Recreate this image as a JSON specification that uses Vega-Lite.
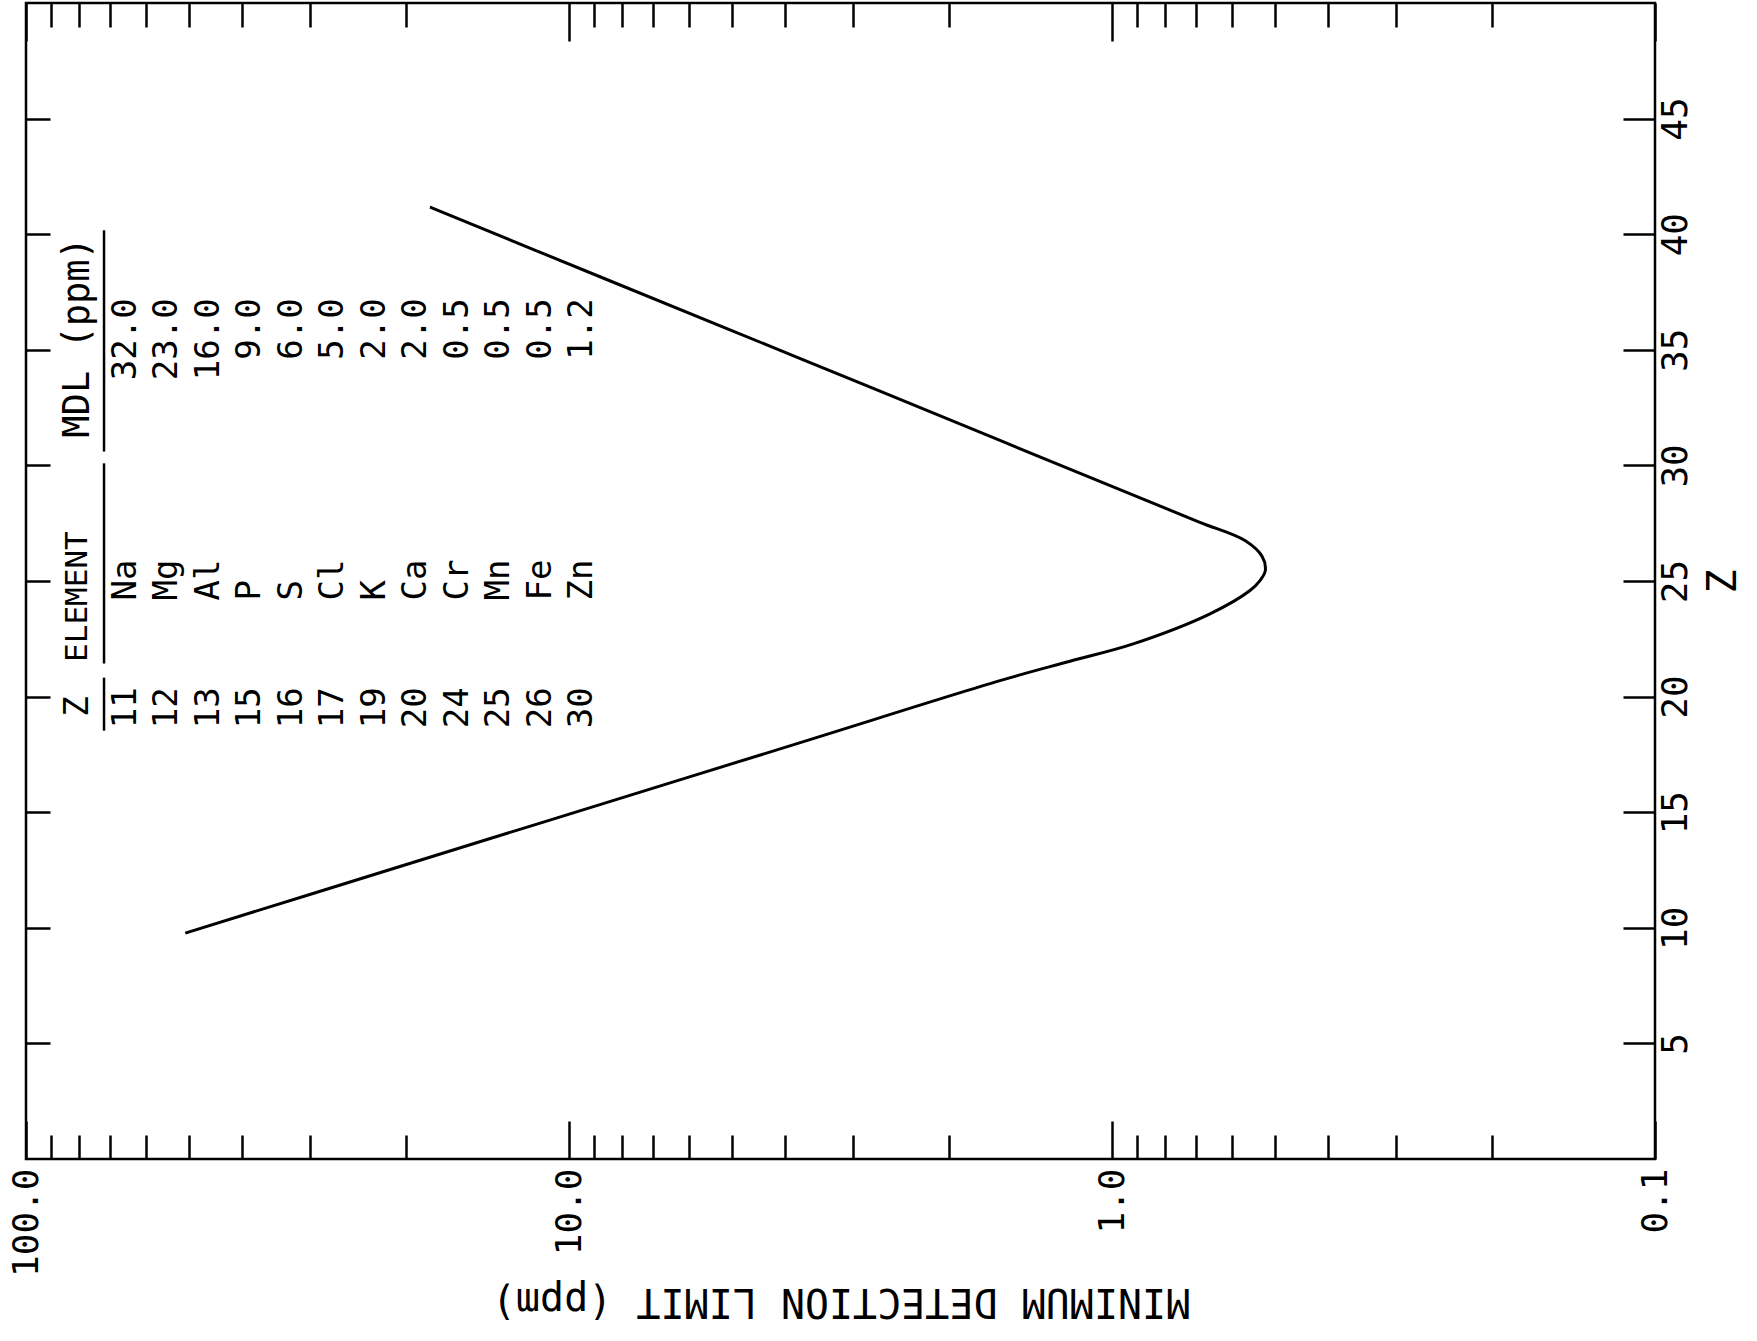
{
  "$schema": "https://vega.github.io/schema/vega-lite/v6.json",
  "width": 1629,
  "height": 1156,
  "autosize": {"type": "none"},
  "padding": {"left": 26, "top": 3, "right": 102, "bottom": 182},
  "background": "white",
  "config": {
    "view": {"stroke": "black", "strokeWidth": 2.5},
    "font": "DejaVu Sans Mono",
    "axis": {
      "grid": false,
      "domain": false,
      "tickColor": "black",
      "tickWidth": 2.5,
      "labelColor": "black",
      "titleColor": "black",
      "labelFont": "DejaVu Sans Mono",
      "titleFont": "DejaVu Sans Mono",
      "titleFontWeight": "normal",
      "labelOverlap": false,
      "labelBound": false,
      "labelFlush": false
    }
  },
  "resolve": {"scale": {"x": "independent"}, "axis": {"x": "independent", "y": "independent"}},
  "layer": [
    {
      "data": {"name": "curve", "values": [
        {"MDL": 50.9, "Z": 9.77},
        {"MDL": 20.48, "Z": 12.65},
        {"MDL": 8.77, "Z": 15.33},
        {"MDL": 3.75, "Z": 18.01},
        {"MDL": 1.608, "Z": 20.69},
        {"MDL": 1.195, "Z": 21.53},
        {"MDL": 0.914, "Z": 22.28},
        {"MDL": 0.660, "Z": 23.58},
        {"MDL": 0.557, "Z": 24.59},
        {"MDL": 0.534, "Z": 25.02},
        {"MDL": 0.522, "Z": 25.45},
        {"MDL": 0.529, "Z": 26.06},
        {"MDL": 0.569, "Z": 26.75},
        {"MDL": 0.689, "Z": 27.54},
        {"MDL": 0.967, "Z": 28.95},
        {"MDL": 1.608, "Z": 31.08},
        {"MDL": 3.75, "Z": 34.62},
        {"MDL": 8.77, "Z": 38.16},
        {"MDL": 18.03, "Z": 41.17}
      ]},
      "mark": {"type": "line", "color": "black", "strokeWidth": 3, "interpolate": "catmull-rom"},
      "encoding": {
        "x": {
          "field": "MDL", "type": "quantitative",
          "scale": {"type": "log", "domain": [0.1, 100], "reverse": true, "nice": false},
          "axis": {
            "orient": "bottom",
            "values": [100, 90, 80, 70, 60, 50, 40, 30, 20, 10, 9, 8, 7, 6, 5, 4, 3, 2, 1, 0.9, 0.8, 0.7, 0.6, 0.5, 0.4, 0.3, 0.2, 0.1],
            "tickSize": {"condition": {"test": "datum.value == 100 || datum.value == 10 || datum.value == 1 || datum.value == 0.1", "value": -38}, "value": -24},
            "labelExpr": "datum.value == 100 ? '100.0' : datum.value == 10 ? '10.0' : datum.value == 1 ? '1.0' : datum.value == 0.1 ? '0.1' : ''",
            "labelAngle": 270,
            "labelAlign": "right",
            "labelBaseline": "middle",
            "labelFontSize": 36,
            "labelPadding": 47,
            "title": "MINIMUM DETECTION LIMIT (ppm)",
            "titleAngle": 180,
            "titleBaseline": "bottom",
            "titleFontSize": 40,
            "titlePadding": 4
          }
        },
        "y": {
          "field": "Z", "type": "quantitative",
          "scale": {"domain": [0, 50], "nice": false, "zero": false},
          "axis": {
            "orient": "left",
            "values": [5, 10, 15, 20, 25, 30, 35, 40, 45],
            "tickSize": -24,
            "labels": false,
            "title": null
          }
        },
        "order": {"field": "Z", "type": "quantitative"}
      }
    },
    {
      "data": {"name": "curve"},
      "mark": {"type": "line", "opacity": 0},
      "encoding": {
        "x": {
          "field": "MDL", "type": "quantitative",
          "scale": {"type": "log", "domain": [0.1, 100], "reverse": true, "nice": false},
          "axis": {
            "orient": "top",
            "values": [100, 90, 80, 70, 60, 50, 40, 30, 20, 10, 9, 8, 7, 6, 5, 4, 3, 2, 1, 0.9, 0.8, 0.7, 0.6, 0.5, 0.4, 0.3, 0.2, 0.1],
            "tickSize": {"condition": {"test": "datum.value == 100 || datum.value == 10 || datum.value == 1 || datum.value == 0.1", "value": -38}, "value": -24},
            "labels": false,
            "title": null
          }
        },
        "y": {
          "field": "Z", "type": "quantitative",
          "scale": {"domain": [0, 50], "nice": false, "zero": false},
          "axis": {
            "orient": "right",
            "values": [5, 10, 15, 20, 25, 30, 35, 40, 45],
            "tickSize": -32,
            "labelAngle": 270,
            "labelAlign": "center",
            "labelBaseline": "top",
            "labelFontSize": 36,
            "labelPadding": 35,
            "title": "Z",
            "titleAngle": 270,
            "titleBaseline": "top",
            "titleFontSize": 40,
            "titlePadding": 10
          }
        },
        "order": {"field": "Z", "type": "quantitative"}
      }
    },
    {
      "data": {"values": [
        {"n": 1, "Z": 11, "Element": "Na", "MDL": 32.0},
        {"n": 2, "Z": 12, "Element": "Mg", "MDL": 23.0},
        {"n": 3, "Z": 13, "Element": "Al", "MDL": 16.0},
        {"n": 4, "Z": 15, "Element": "P", "MDL": 9.0},
        {"n": 5, "Z": 16, "Element": "S", "MDL": 6.0},
        {"n": 6, "Z": 17, "Element": "Cl", "MDL": 5.0},
        {"n": 7, "Z": 19, "Element": "K", "MDL": 2.0},
        {"n": 8, "Z": 20, "Element": "Ca", "MDL": 2.0},
        {"n": 9, "Z": 24, "Element": "Cr", "MDL": 0.5},
        {"n": 10, "Z": 25, "Element": "Mn", "MDL": 0.5},
        {"n": 11, "Z": 26, "Element": "Fe", "MDL": 0.5},
        {"n": 12, "Z": 30, "Element": "Zn", "MDL": 1.2}
      ]},
      "layer": [
        {
          "mark": {"type": "text", "angle": 270, "align": "center", "baseline": "middle", "fontSize": 34, "font": "DejaVu Sans Mono", "color": "black"},
          "encoding": {
            "x": {"field": "n", "type": "quantitative", "scale": {"domain": [-1.4, 37.853], "nice": false, "zero": false}, "axis": null},
            "y": {"datum": 19.52, "type": "quantitative", "scale": {"domain": [0, 50], "nice": false, "zero": false}, "axis": null},
            "text": {"field": "Z", "type": "quantitative"}
          }
        },
        {
          "mark": {"type": "text", "angle": 270, "align": "left", "baseline": "middle", "fontSize": 34, "font": "DejaVu Sans Mono", "color": "black"},
          "encoding": {
            "x": {"field": "n", "type": "quantitative", "scale": {"domain": [-1.4, 37.853], "nice": false, "zero": false}, "axis": null},
            "y": {"datum": 24.16, "type": "quantitative", "scale": {"domain": [0, 50], "nice": false, "zero": false}, "axis": null},
            "text": {"field": "Element", "type": "nominal"}
          }
        },
        {
          "mark": {"type": "text", "angle": 270, "align": "right", "baseline": "middle", "fontSize": 34, "font": "DejaVu Sans Mono", "color": "black"},
          "encoding": {
            "x": {"field": "n", "type": "quantitative", "scale": {"domain": [-1.4, 37.853], "nice": false, "zero": false}, "axis": null},
            "y": {"datum": 37.23, "type": "quantitative", "scale": {"domain": [0, 50], "nice": false, "zero": false}, "axis": null},
            "text": {"field": "MDL", "type": "quantitative", "format": ".1f"}
          }
        },
        {
          "data": {"values": [{}]},
          "mark": {"type": "text", "text": "Z", "angle": 270, "align": "center", "baseline": "middle", "fontSize": 34, "font": "DejaVu Sans Mono", "color": "black"},
          "encoding": {
            "x": {"datum": -0.147, "type": "quantitative", "scale": {"domain": [-1.4, 37.853], "nice": false, "zero": false}, "axis": null},
            "y": {"datum": 19.57, "type": "quantitative", "scale": {"domain": [0, 50], "nice": false, "zero": false}, "axis": null}
          }
        },
        {
          "data": {"values": [{}]},
          "mark": {"type": "text", "text": "ELEMENT", "angle": 270, "align": "left", "baseline": "middle", "fontSize": 31, "font": "DejaVu Sans Mono", "color": "black"},
          "encoding": {
            "x": {"datum": -0.147, "type": "quantitative", "scale": {"domain": [-1.4, 37.853], "nice": false, "zero": false}, "axis": null},
            "y": {"datum": 21.5, "type": "quantitative", "scale": {"domain": [0, 50], "nice": false, "zero": false}, "axis": null}
          }
        },
        {
          "data": {"values": [{}]},
          "mark": {"type": "text", "text": "MDL (ppm)", "angle": 270, "align": "left", "baseline": "middle", "fontSize": 37, "font": "DejaVu Sans Mono", "color": "black"},
          "encoding": {
            "x": {"datum": -0.147, "type": "quantitative", "scale": {"domain": [-1.4, 37.853], "nice": false, "zero": false}, "axis": null},
            "y": {"datum": 31.2, "type": "quantitative", "scale": {"domain": [0, 50], "nice": false, "zero": false}, "axis": null}
          }
        },
        {
          "data": {"values": [{}]},
          "mark": {"type": "rule", "color": "black", "strokeWidth": 2.5},
          "encoding": {
            "x": {"datum": 0.48, "type": "quantitative", "scale": {"domain": [-1.4, 37.853], "nice": false, "zero": false}, "axis": null},
            "y": {"datum": 18.53, "type": "quantitative", "scale": {"domain": [0, 50], "nice": false, "zero": false}, "axis": null},
            "y2": {"datum": 20.82}
          }
        },
        {
          "data": {"values": [{}]},
          "mark": {"type": "rule", "color": "black", "strokeWidth": 2.5},
          "encoding": {
            "x": {"datum": 0.48, "type": "quantitative", "scale": {"domain": [-1.4, 37.853], "nice": false, "zero": false}, "axis": null},
            "y": {"datum": 21.43, "type": "quantitative", "scale": {"domain": [0, 50], "nice": false, "zero": false}, "axis": null},
            "y2": {"datum": 30.09}
          }
        },
        {
          "data": {"values": [{}]},
          "mark": {"type": "rule", "color": "black", "strokeWidth": 2.5},
          "encoding": {
            "x": {"datum": 0.48, "type": "quantitative", "scale": {"domain": [-1.4, 37.853], "nice": false, "zero": false}, "axis": null},
            "y": {"datum": 30.6, "type": "quantitative", "scale": {"domain": [0, 50], "nice": false, "zero": false}, "axis": null},
            "y2": {"datum": 40.17}
          }
        }
      ]
    }
  ]
}
